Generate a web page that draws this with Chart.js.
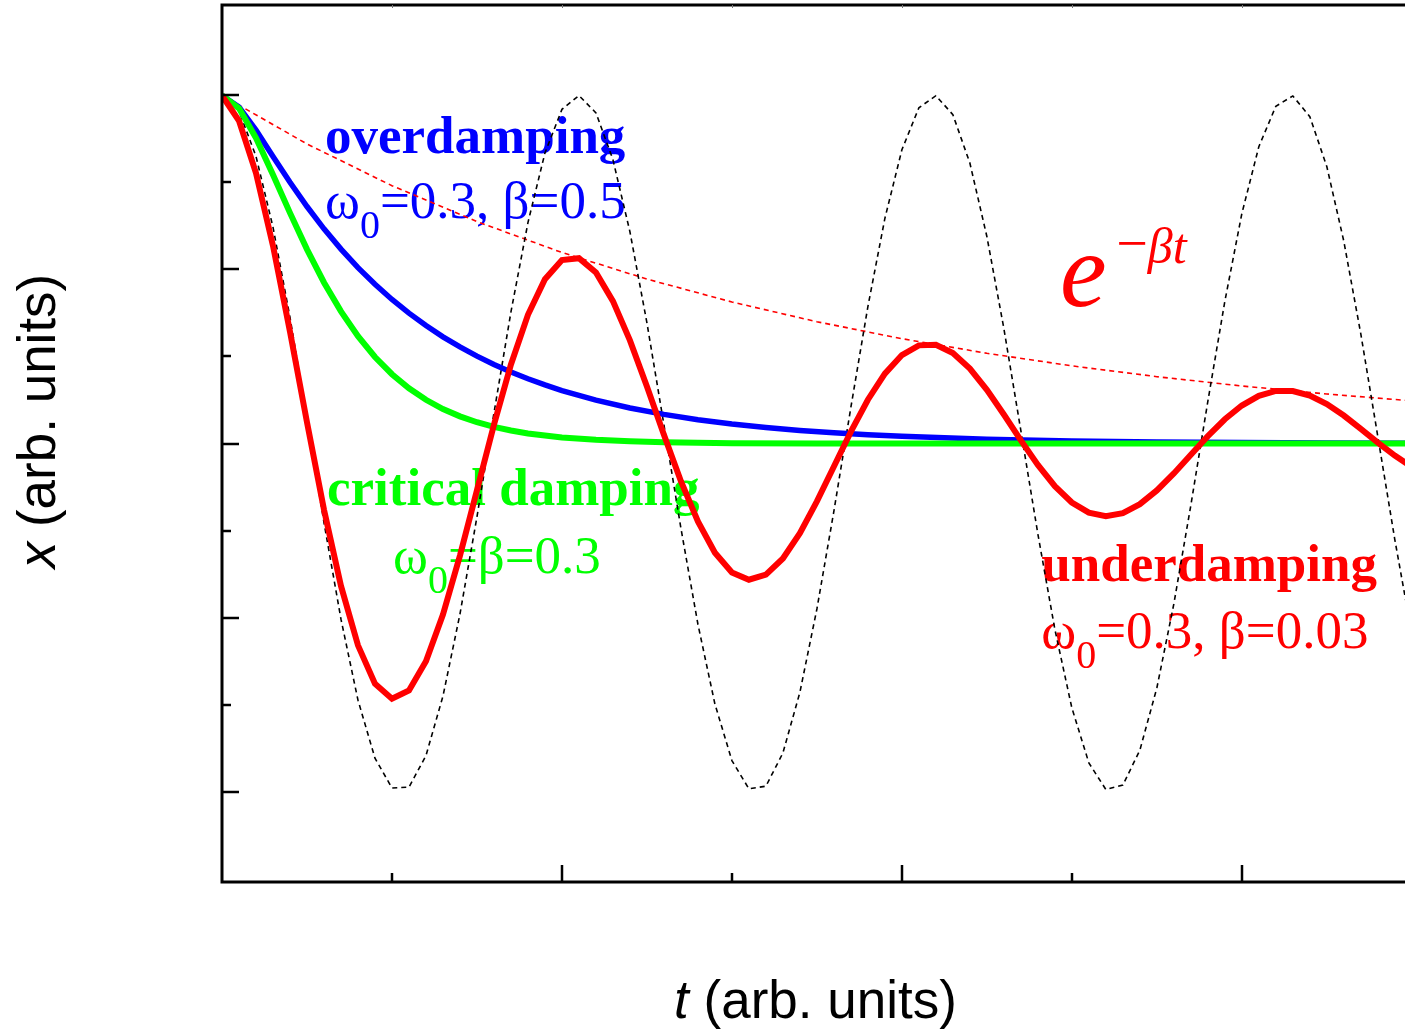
<!DOCTYPE html>
<html lang="en">
<head>
<meta charset="UTF-8" />
<title>Damped oscillator</title>
<script src="https://cdn.jsdelivr.net/npm/chart.js"></script>
<style>
  html, body { margin: 0; padding: 0; background: #fff; overflow: hidden; }
  #wrap { width: 1405px; height: 1035px; }
</style>
</head>
<body>
<div id="wrap"><canvas id="chart" width="1405" height="1035"></canvas></div>
<script>
// time samples (arb. units)
const tFine = [0, 1, 2, 3, 4, 5, 6, 7, 8, 9, 10, 11, 12, 13, 14, 15, 16, 17, 18, 19, 20,
  21, 22, 23, 24, 25, 26, 27, 28, 29, 30, 31, 32, 33, 34, 35, 36, 37, 38, 39, 40,
  41, 42, 43, 44, 45, 46, 47, 48, 49, 50, 51, 52, 53, 54, 55, 56, 57, 58, 59, 60,
  61, 62, 63, 64, 65, 66, 67, 68, 69, 70];

// underdamping, w0=0.3, beta=0.03
const underY = [1, 0.927, 0.7773, 0.5681, 0.3214, 0.0609, -0.1898, -0.4092, -0.58, -0.6902, -0.7334,
  -0.7099, -0.6257, -0.4915, -0.3221, -0.1344, 0.0541, 0.227, 0.3698, 0.472, 0.527,
  0.5325, 0.4912, 0.4092, 0.2962, 0.1637, 0.0248, -0.1083, -0.2242, -0.3137, -0.3705,
  -0.3915, -0.377, -0.3305, -0.2578, -0.1664, -0.066, 0.0343, 0.1258, 0.2008, 0.2542,
  0.282, 0.2835, 0.2602, 0.2152, 0.1542, 0.0832, 0.009, -0.0616, -0.1228, -0.1695,
  -0.1987, -0.2089, -0.2001, -0.1744, -0.1349, -0.0859, -0.0321, 0.0212, 0.0696, 0.1091,
  0.1368, 0.1509, 0.1509, 0.1377, 0.1132, 0.0803, 0.0422, 0.0027, -0.0348, -0.0671];

// undamped oscillation (black dashed)
const freeY = [1, 0.9553, 0.8253, 0.6216, 0.3624, 0.0707, -0.2272, -0.5048, -0.7374, -0.9041, -0.99,
  -0.9875, -0.8968, -0.7259, -0.4903, -0.2108, 0.0875, 0.378, 0.6347, 0.8347, 0.9602,
  0.9999, 0.9502, 0.8157, 0.6084, 0.3466, 0.054, -0.2435, -0.5193, -0.7486, -0.9111,
  -0.9922, -0.9847, -0.8893, -0.7149, -0.4755, -0.1943, 0.1042, 0.3934, 0.6469, 0.8439,
  0.9647, 0.9994, 0.945, 0.8058, 0.5949, 0.3305, 0.0368, -0.26, -0.534, -0.7597,
  -0.9177, -0.9942, -0.9816, -0.8814, -0.7025, -0.4611, -0.1777, 0.121, 0.4084, 0.6603,
  0.8528, 0.969, 0.9987, 0.9392, 0.7958, 0.5813, 0.3149, 0.0204, -0.2759, -0.5477];

// envelope e^(-beta t) (red dashed)
const envT = [0, 5, 10, 15, 20, 25, 30, 35, 40, 45, 50, 55, 60, 65, 70];
const envY = [1, 0.8607, 0.7408, 0.6376, 0.5488, 0.4724, 0.4066, 0.3499, 0.3012, 0.2592,
  0.2231, 0.192, 0.1653, 0.1423, 0.1225];

// overdamping, w0=0.3, beta=0.5
const overT = [0, 1, 2, 3, 4, 5, 6, 7, 8, 9, 10, 11, 12, 13, 14, 15, 16, 17, 18, 19, 20,
  22, 24, 26, 28, 30, 32, 34, 36, 38, 40, 45, 50, 55, 60, 65, 70];
const overY = [1, 0.9671, 0.9004, 0.825, 0.7507, 0.6809, 0.6168, 0.5585, 0.5054, 0.4574, 0.4139,
  0.3745, 0.3389, 0.3066, 0.2774, 0.251, 0.2271, 0.2055, 0.186, 0.1683, 0.1522,
  0.1247, 0.102, 0.0836, 0.0684, 0.056, 0.0459, 0.0376, 0.0307, 0.0252, 0.0206,
  0.0125, 0.0075, 0.0046, 0.0028, 0.0017, 0.001];

// critical damping, w0=beta=0.3
const critT = [0, 1, 2, 3, 4, 5, 6, 7, 8, 9, 10, 11, 12, 13, 14, 15, 16, 17, 18,
  20, 22, 24, 26, 28, 30, 35, 40, 50, 70];
const critY = [1, 0.9631, 0.8781, 0.7725, 0.6626, 0.5578, 0.4628, 0.3798, 0.3084, 0.2486, 0.1991,
  0.1587, 0.1256, 0.099, 0.078, 0.0611, 0.0476, 0.0372, 0.0288,
  0.0175, 0.0106, 0.0062, 0.0035, 0.0019, 0.001, 0.0003, 0.0001, 0, 0];

// tick positions (no labels in the figure)
const xTicks = [10, 20, 30, 40, 50, 60];
const yTicks = [-1, -0.75, -0.5, -0.25, 0, 0.25, 0.5, 0.75, 1];

function pts(xs, ys) {
  return xs.map((x, i) => ({ x: x, y: ys[i] }));
}

const serif = "'Liberation Serif', 'Times New Roman', serif";
const sans = "'Liberation Sans', Arial, sans-serif";
const sub = "40px " + serif, reg = "53px " + serif;

// text notes, anchored in data coordinates (left edge, baseline)
const notes = [
  { t: 6.06, v: 0.836, color: "#0000ff", runs: [["overdamping", "bold 53px " + serif, 0]] },
  { t: 6.06, v: 0.647, color: "#0000ff", runs: [["ω", reg, 0], ["0", sub, 20], ["=0.3, β=0.5", reg, 0]] },
  { t: 6.18, v: -0.178, color: "#00ff00", runs: [["critical damping", "bold 53px " + serif, 0]] },
  { t: 10.06, v: -0.371, color: "#00ff00", runs: [["ω", reg, 0], ["0", sub, 20], ["=β=0.3", reg, 0]] },
  { t: 48.2, v: -0.394, color: "#ff0000", runs: [["underdamping", "bold 53px " + serif, 0]] },
  { t: 48.2, v: -0.589, color: "#ff0000", runs: [["ω", reg, 0], ["0", sub, 20], ["=0.3, β=0.03", reg, 0]] },
  { t: 49.3, v: 0.394, color: "#ff0000", runs: [["e", "italic 105px " + serif, 0], ["\u2009", "48px " + serif, 0],
    ["\u2212", "56px " + serif, -44], ["βt", "italic 50px " + serif, -43]] }
];

function drawRuns(ctx, x, y, runs) {
  runs.forEach(r => {
    ctx.font = r[1];
    ctx.fillText(r[0], x, y + r[2]);
    x += ctx.measureText(r[0]).width;
  });
}

const framePlugin = {
  id: "frame",
  beforeDatasetsDraw(chart) {
    const ctx = chart.ctx;
    const xs = chart.scales.x, ys = chart.scales.y;
    ctx.save();
    ctx.textAlign = "left";
    ctx.textBaseline = "alphabetic";
    notes.forEach(n => {
      ctx.fillStyle = n.color;
      drawRuns(ctx, xs.getPixelForValue(n.t), ys.getPixelForValue(n.v), n.runs);
    });
    ctx.restore();
  },
  afterDraw(chart) {
    const ctx = chart.ctx;
    const a = chart.chartArea;
    const xs = chart.scales.x, ys = chart.scales.y;
    ctx.save();
    ctx.strokeStyle = "#000";
    ctx.lineWidth = 3;
    ctx.beginPath();
    ctx.moveTo(a.left, a.top - 1.5);
    ctx.lineTo(a.left, a.bottom + 1.5);
    ctx.moveTo(a.left - 1.5, a.top);
    ctx.lineTo(a.right + 2, a.top);
    ctx.moveTo(a.left - 1.5, a.bottom);
    ctx.lineTo(a.right + 2, a.bottom);
    ctx.stroke();

    // inward ticks, long on the major ones
    ctx.lineWidth = 2.5;
    ctx.beginPath();
    xTicks.forEach(v => {
      const px = Math.round(xs.getPixelForValue(v));
      const len = v % 20 === 0 ? 17 : 9;
      ctx.moveTo(px, a.bottom);
      ctx.lineTo(px, a.bottom - len);
    });
    yTicks.forEach(v => {
      const py = Math.round(ys.getPixelForValue(v));
      const len = Math.abs(v * 2 - Math.round(v * 2)) < 1e-6 ? 17 : 9;
      ctx.moveTo(a.left, py);
      ctx.lineTo(a.left + len, py);
    });
    ctx.stroke();
    ctx.lineWidth = 1;
    ctx.strokeStyle = "#777";
    ctx.beginPath();
    xTicks.forEach(v => {
      const px = Math.round(xs.getPixelForValue(v)) + 0.5;
      ctx.moveTo(px, a.top);
      ctx.lineTo(px, a.top + 3);
    });
    ctx.stroke();

    // axis titles
    ctx.fillStyle = "#000";
    ctx.textBaseline = "alphabetic";
    ctx.textAlign = "left";
    const fItal = "italic 53px " + sans, fNorm = "53px " + sans;
    ctx.font = fItal;
    const w1 = ctx.measureText("t").width;
    ctx.font = fNorm;
    const w2 = ctx.measureText(" (arb. units)").width;
    let x0 = (a.left + a.right) / 2 + 2 - (w1 + w2) / 2;
    drawRuns(ctx, x0, a.bottom + 136, [["t", fItal, 0], [" (arb. units)", fNorm, 0]]);

    ctx.font = fItal;
    const w3 = ctx.measureText("x").width;
    ctx.translate(a.left - 167, a.top + 416);
    ctx.rotate(-Math.PI / 2);
    drawRuns(ctx, -(w3 + w2) / 2, 0, [["x", fItal, 0], [" (arb. units)", fNorm, 0]]);
    ctx.restore();
  }
};

const ctx = document.getElementById("chart").getContext("2d");
new Chart(ctx, {
  type: "line",
  data: {
    datasets: [
      { label: "underdamping", data: pts(tFine, underY), borderColor: "#ff0000", borderWidth: 6 },
      { label: "critical damping", data: pts(critT, critY), borderColor: "#00ff00", borderWidth: 6 },
      { label: "overdamping", data: pts(overT, overY), borderColor: "#0000ff", borderWidth: 5.5 },
      { label: "undamped", data: pts(tFine, freeY), borderColor: "#000000", borderWidth: 1.6, borderDash: [5, 4] },
      { label: "envelope", data: pts(envT, envY), borderColor: "#ff0000", borderWidth: 1.6, borderDash: [5, 4] }
    ]
  },
  options: {
    responsive: false,
    animation: false,
    devicePixelRatio: 1,
    layout: { padding: { left: 222, right: 0, top: 5, bottom: 153 } },
    elements: { point: { radius: 0 }, line: { tension: 0, fill: false } },
    plugins: { legend: { display: false }, tooltip: { enabled: false } },
    scales: {
      x: { type: "linear", min: 0, max: 69.6, display: false },
      y: { type: "linear", min: -1.26, max: 1.26, display: false }
    }
  },
  plugins: [framePlugin]
});
</script>
</body>
</html>
